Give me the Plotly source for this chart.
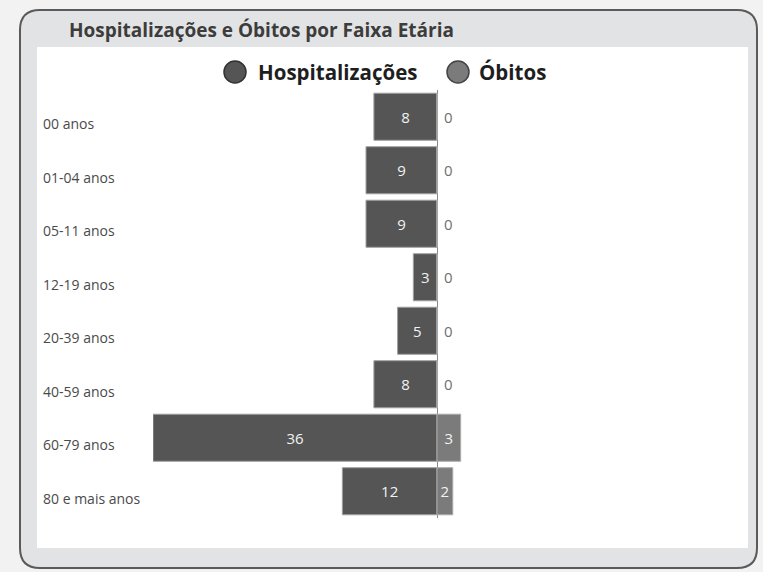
import plotly.graph_objects as go

categories = ["00 anos", "01-04 anos", "05-11 anos", "12-19 anos",
              "20-39 anos", "40-59 anos", "60-79 anos", "80 e mais anos"]
hospitalizacoes = [8, 9, 9, 3, 5, 8, 36, 12]
obitos = [0, 0, 0, 0, 0, 0, 3, 2]

W, H = 763, 572
L, R, T, B = 153, 15, 90, 54
PW, PH = W - L - R, H - T - B

def px(x):
    return (x - L) / PW

def py(y):
    return (H - B - y) / PH

C_HOSP = "#555555"
C_OBIT = "#7b7b7b"
FONT = "Open Sans"

fig = go.Figure()
fig.add_trace(go.Bar(
    y=categories, x=[-v for v in hospitalizacoes], orientation="h",
    text=[str(v) for v in hospitalizacoes], textposition="inside",
    insidetextanchor="middle",
    insidetextfont=dict(color="#f2f2f2", size=15, family=FONT),
    marker=dict(color=C_HOSP, line=dict(color="#a0a0a0", width=1)),
    name="Hospitalizações", showlegend=False, hoverinfo="skip",
))
fig.add_trace(go.Bar(
    y=categories, x=obitos, orientation="h",
    text=[str(v) if v > 0 else "\u00a0" + str(v) for v in obitos],
    textposition=["inside" if v > 0 else "outside" for v in obitos],
    insidetextanchor="middle",
    insidetextfont=dict(color="#f2f2f2", size=15, family=FONT),
    outsidetextfont=dict(color="#707070", size=15, family=FONT),
    cliponaxis=False,
    marker=dict(color=C_OBIT, line=dict(color="#ababab", width=1)),
    name="Óbitos", showlegend=False, hoverinfo="skip",
))

shapes = [
    dict(type="path", xref="paper", yref="paper", layer="below",
         path=(f"M {px(40)},{py(10)} L {px(737)},{py(10)} "
               f"Q {px(757)},{py(10)} {px(757)},{py(30)} "
               f"L {px(757)},{py(548)} Q {px(757)},{py(568)} {px(737)},{py(568)} "
               f"L {px(40)},{py(568)} Q {px(20)},{py(568)} {px(20)},{py(548)} "
               f"L {px(20)},{py(30)} Q {px(20)},{py(10)} {px(40)},{py(10)} Z"),
         fillcolor="#e2e3e4", line=dict(color="#5a5a5a", width=2)),
    dict(type="rect", xref="paper", yref="paper", layer="below",
         x0=px(37), x1=px(748), y0=py(548), y1=py(47),
         fillcolor="white", line=dict(width=0)),
    dict(type="circle", xref="paper", yref="paper",
         x0=px(224), x1=px(246), y0=py(83), y1=py(61),
         fillcolor=C_HOSP, line=dict(color="#333333", width=1.5)),
    dict(type="circle", xref="paper", yref="paper",
         x0=px(447), x1=px(469), y0=py(83), y1=py(61),
         fillcolor=C_OBIT, line=dict(color="#444444", width=1.5)),
]

annotations = [
    dict(text="Hospitalizações e Óbitos por Faixa Etária", xref="paper", yref="paper",
         x=px(67), y=py(30), xanchor="left", yanchor="middle", showarrow=False,
         font=dict(size=19, color="#3c3c3c", family=FONT, weight="bold")),
    dict(text="Hospitalizações", xref="paper", yref="paper",
         x=px(256), y=py(72), xanchor="left", yanchor="middle", showarrow=False,
         font=dict(size=20.5, color="#1e1e1e", family=FONT, weight="bold")),
    dict(text="Óbitos", xref="paper", yref="paper",
         x=px(477), y=py(72), xanchor="left", yanchor="middle", showarrow=False,
         font=dict(size=20.5, color="#1e1e1e", family=FONT, weight="bold")),
]
for c in categories:
    annotations.append(dict(text=c, xref="paper", yref="y", x=px(41), y=c,
                            xanchor="left", yanchor="middle", yshift=-7, showarrow=False,
                            font=dict(size=14, color="#4a4a4a", family=FONT)))

fig.update_layout(
    width=W, height=H, margin=dict(l=L, r=R, t=T, b=B, autoexpand=False),
    paper_bgcolor="#f2f2f2", plot_bgcolor="rgba(0,0,0,0)",
    barmode="relative", bargap=0.12,
    shapes=shapes, annotations=annotations,
    xaxis=dict(range=[-36, PW / (284 / 36) - 36], showgrid=False, showticklabels=False,
               zeroline=True, zerolinecolor="#8a8a8a", zerolinewidth=1, fixedrange=True),
    yaxis=dict(categoryorder="array", categoryarray=categories, autorange="reversed",
               showgrid=False, showticklabels=False, zeroline=False, fixedrange=True),
    showlegend=False,
)

fig.write_html("out.html", config={"displayModeBar": False},
               post_script="document.body.style.margin='0';document.body.style.overflow='hidden';")
